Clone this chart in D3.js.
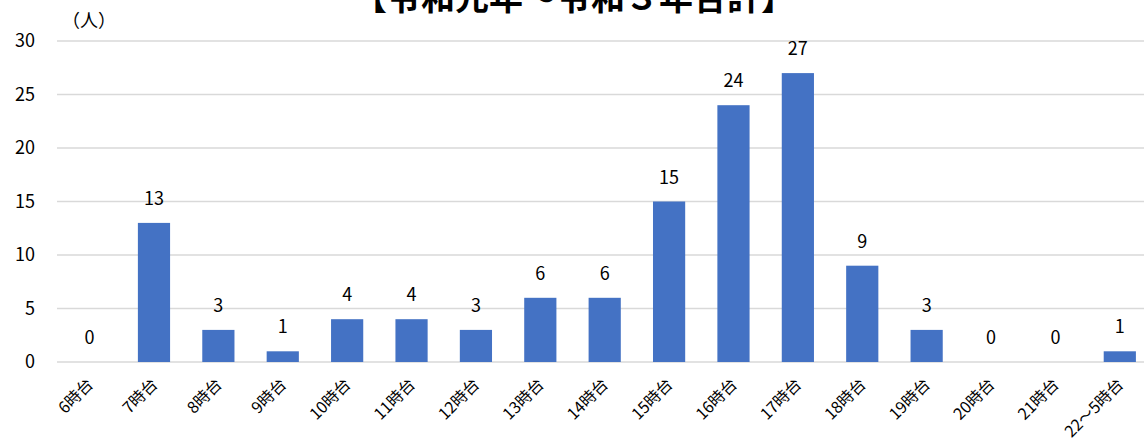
<!DOCTYPE html>
<html lang="ja">
<head>
  <meta charset="UTF-8" />
  <title>時間帯別</title>
  <script src="https://d3js.org/d3.v7.min.js"></script>
  <style>
    body { margin: 0; background: #fff; }
    svg { display: block; }
    text { font-family: "Noto Sans CJK JP", "Noto Sans", sans-serif; fill: #000; }
  </style>
</head>
<body>
  <svg width="1144" height="445"></svg>

  <script>
    const width = 1144;
    const height = 445;

    const hours = ["6時台", "7時台", "8時台", "9時台", "10時台", "11時台", "12時台", "13時台",
      "14時台", "15時台", "16時台", "17時台", "18時台", "19時台", "20時台", "21時台", "22〜5時台"];
    const counts = [0, 13, 3, 1, 4, 4, 3, 6, 6, 15, 24, 27, 9, 3, 0, 0, 1];
    const yTicks = [0, 5, 10, 15, 20, 25, 30];

    const svg = d3.select("svg");

    const x = d3.scaleBand()
      .domain(hours)
      .range([57.4, 1152])
      .paddingInner(0.5)
      .paddingOuter(0.25);

    const y = d3.scaleLinear()
      .domain([0, 30])
      .range([362, 41]);

    // gridlines
    svg.append("g")
      .selectAll("line")
      .data(yTicks)
      .enter()
      .append("line")
      .attr("x1", 57)
      .attr("x2", width)
      .attr("y1", d => y(d))
      .attr("y2", d => y(d))
      .attr("stroke", "#d9d9d9")
      .attr("stroke-width", 1.5);

    // y tick labels
    svg.append("g")
      .selectAll("text")
      .data(yTicks)
      .enter()
      .append("text")
      .attr("x", 35)
      .attr("y", d => y(d))
      .attr("dy", "0.35em")
      .attr("text-anchor", "end")
      .style("font-size", "18px")
      .text(d => d);

    svg.append("text")
      .attr("x", 62)
      .attr("y", 27)
      .style("font-size", "18px")
      .text("（人）");

    // title (cut at top, as in the original)
    svg.append("text")
      .attr("x", 574)
      .attr("y", 10)
      .attr("text-anchor", "middle")
      .style("font-size", "34px")
      .style("font-weight", "bold")
      .text("【令和元年～令和３年合計】");

    // bars
    svg.append("g")
      .selectAll("rect")
      .data(counts)
      .enter()
      .append("rect")
      .attr("x", (d, i) => x(hours[i]))
      .attr("width", x.bandwidth())
      .attr("y", d => y(d))
      .attr("height", d => y(0) - y(d))
      .attr("fill", "#4472c4");

    // value labels
    svg.append("g")
      .selectAll("text")
      .data(counts)
      .enter()
      .append("text")
      .attr("x", (d, i) => x(hours[i]) + x.bandwidth() / 2)
      .attr("y", d => y(d) - 18)
      .attr("text-anchor", "middle")
      .style("font-size", "18px")
      .text(d => d);

    // category labels, rotated
    svg.append("g")
      .selectAll("text")
      .data(hours)
      .enter()
      .append("text")
      .attr("transform", d => `translate(${x(d) + x.bandwidth() / 2 - 4},${377}) rotate(-45)`)
      .attr("text-anchor", "end")
      .attr("dy", "0.75em")
      .style("font-size", "16px")
      .text(d => d);
  </script>
</body>
</html>
